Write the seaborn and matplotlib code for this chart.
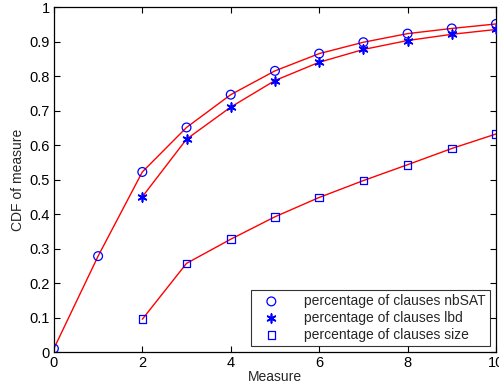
import numpy as np
import pandas as pd
import matplotlib
matplotlib.use("Agg")
import matplotlib.pyplot as plt
import seaborn as sns

# values
x_nbsat = [0, 1, 2, 3, 4, 5, 6, 7, 8, 9, 10]
y_nbsat = [0.010, 0.278, 0.522, 0.651, 0.746, 0.815, 0.865, 0.898, 0.923, 0.938, 0.951]

x_lbd = [2, 3, 4, 5, 6, 7, 8, 9, 10]
y_lbd = [0.450, 0.617, 0.710, 0.787, 0.840, 0.877, 0.903, 0.921, 0.935]

x_size = [2, 3, 4, 5, 6, 7, 8, 9, 10]
y_size = [0.095, 0.257, 0.327, 0.392, 0.448, 0.497, 0.543, 0.590, 0.632]

labels = ["percentage of clauses nbSAT",
          "percentage of clauses lbd",
          "percentage of clauses size"]

sns.set_style("white")
plt.rcParams['font.family'] = ['Liberation Sans', 'DejaVu Sans']

fig = plt.figure(figsize=(4.99, 3.92), dpi=100)
ax = fig.add_axes([0.108, 0.102, 0.886, 0.880])

asterisk = (6, 2, 0)
series = [(x_nbsat, y_nbsat, 'o', 40), (x_lbd, y_lbd, asterisk, 40), (x_size, y_size, 's', 30)]
for (xs, ys, m, sz), lab in zip(series, labels):
    df = pd.DataFrame({"x": xs, "y": ys})
    sns.lineplot(data=df, x="x", y="y", color="red", lw=1.0, ax=ax, zorder=2)
    if m is asterisk:
        sns.scatterplot(data=df, x="x", y="y", marker=m, s=sz, color="blue",
                        edgecolor="blue", linewidth=1.2, ax=ax, label=lab, zorder=3)
    else:
        sns.scatterplot(data=df, x="x", y="y", marker=m, s=sz, facecolor="none",
                        edgecolor="blue", linewidth=0.9, ax=ax, label=lab, zorder=3)

ax.set_xlim(0, 10)
ax.set_ylim(0, 1)
ax.set_xticks(np.arange(0, 11, 2))
ax.set_xticklabels([str(v) for v in range(0, 11, 2)])
ax.set_yticks(np.arange(0, 1.01, 0.1))
ax.set_yticklabels(["0", "0.1", "0.2", "0.3", "0.4", "0.5", "0.6", "0.7", "0.8", "0.9", "1"])
ax.tick_params(direction="in", length=4, width=0.8, top=True, right=True,
               bottom=True, left=True, labelsize=10.5, colors="black", pad=3)
for s in ax.spines.values():
    s.set_color("black")
    s.set_linewidth(0.9)

ax.set_xlabel("Measure", fontsize=10, labelpad=0)
ax.set_ylabel("CDF of measure", fontsize=10, labelpad=3)

leg = ax.legend(loc="lower right", fontsize=10, frameon=True, fancybox=False,
                edgecolor="black", borderaxespad=0.45, handletextpad=1.2,
                labelspacing=0.2, borderpad=0.3, handlelength=2.3)
leg.get_frame().set_linewidth(0.8)

fig.savefig("out.png", dpi=100)
